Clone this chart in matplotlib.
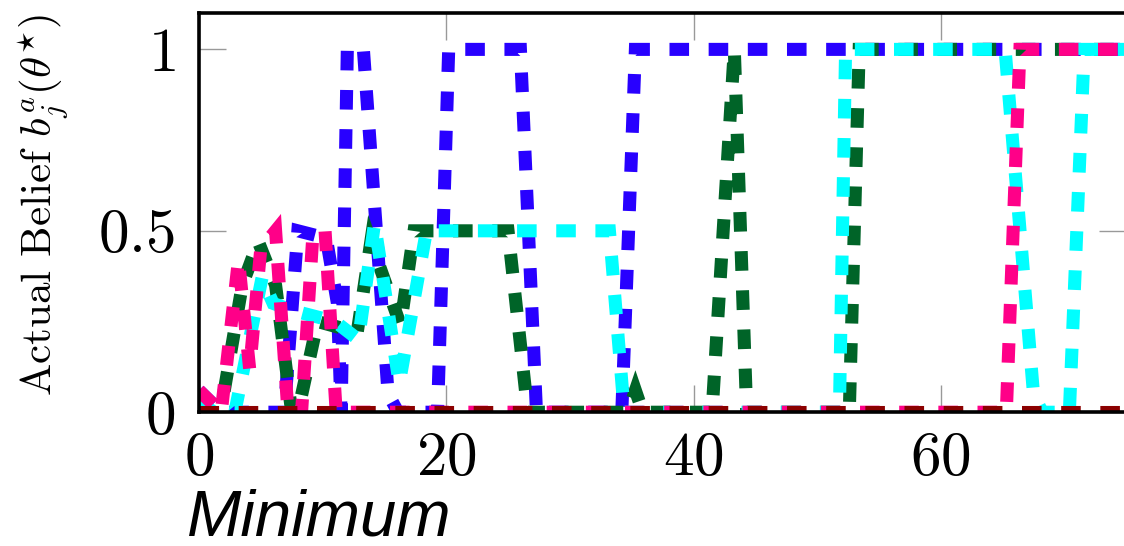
import numpy as np
import matplotlib
matplotlib.use("Agg")
import matplotlib.pyplot as plt

plt.rcParams['mathtext.fontset'] = 'cm'
plt.rcParams['font.family'] = 'serif'
plt.rcParams['font.serif'] = ['cmr10', 'DejaVu Serif']
plt.rcParams['axes.unicode_minus'] = False
plt.rcParams['axes.formatter.use_mathtext'] = True

# belief traces (x = step, y = belief)
blue_x = [0, 1.8, 6.9, 8.0, 10.3, 11.2, 11.5, 12.0, 13.3, 15.3, 16.1, 19.3, 20.2, 26.0, 27.3, 34.2, 35.3, 75]
blue_y = [0.06, 0, 0, 0.5, 0.48, 0.3, 0, 1, 1, 0.05, 0, 0, 1, 1, 0, 0, 1, 1]

green_x = [0, 0.7, 2.0, 3.5, 4.8, 6.2, 7.5, 8.0, 9.6, 12.8, 13.9, 16.3, 17.4, 25.0, 26.6,
           34.7, 35.3, 35.9, 41.5, 43.3, 44.3, 52.6, 53.4, 75]
green_y = [0, 0.05, 0.05, 0.35, 0.47, 0.35, 0.0, 0.0, 0.25, 0.22, 0.47, 0.24, 0.5, 0.5, 0,
           0, 0.06, 0, 0, 1, 0, 0, 1, 1]

cyan_x = [0, 1.2, 2.9, 5.1, 6.0, 7.6, 11.0, 12.9, 14.2, 16.2, 18.4, 19.0, 33.2, 34.4,
          51.8, 52.3, 65.2, 67.5, 68.2, 70.4, 71.6, 75]
cyan_y = [0.03, 0, 0, 0.37, 0.3, 0.28, 0.25, 0.2, 0.52, 0.08, 0.5, 0.5, 0.5, 0,
          0, 1, 1, 0.05, 0, 0, 1, 1]

pink_x = [0, 1.8, 3.2, 4.1, 5.0, 6.2, 7.2, 8.3, 9.2, 10.2, 11.1, 65.3, 66.4, 75]
pink_y = [0.06, 0, 0.42, 0.12, 0.45, 0.5, 0, 0, 0.48, 0.5, 0, 0, 1, 1]

red_x = [0, 75]
red_y = [0, 0]

series = [
    (blue_x, blue_y, '#2800ff'),
    (green_x, green_y, '#006428'),
    (cyan_x, cyan_y, '#00ffff'),
    (pink_x, pink_y, '#ff0088'),
    (red_x, red_y, '#8b0000'),
]

xticks = [0, 20, 40, 60]
yticks = [0, 0.5, 1]
ytick_labels = ['$0$', '$0.5$', '$1$']

fig = plt.figure(figsize=(11.24, 5.46), dpi=100)
ax = fig.add_axes([0.177, 0.245, 0.825, 0.731])

for xs, ys, c in series:
    ln, = ax.plot(xs, ys, color=c, lw=9.4, linestyle=(0, (1.5, 1.5)))
    ln.set_dash_joinstyle('miter')
    ln.set_dash_capstyle('butt')

ax.set_xlim(0, 75)
ax.set_ylim(0, 1.1)
ax.set_xticks(xticks)
ax.set_xticklabels(['$%d$' % t for t in xticks])
ax.set_yticks(yticks)
ax.set_yticklabels(ytick_labels)

ax.tick_params(direction='in', length=19.5, width=1.0, color='#999999',
               top=True, right=True, labelsize=44)
ax.tick_params(axis='y', pad=17)
ax.tick_params(axis='x', pad=14)
for sp in ax.spines.values():
    sp.set_linewidth(2.6)

ax.set_ylabel('Actual Belief $b^a_j(\\theta^{⋆})$', fontsize=31)
ax.yaxis.set_label_coords(-0.137, 0.52)
ax.set_xlabel('Minimum', fontsize=47, family='Liberation Sans', style='italic', ha='left')
ax.xaxis.set_label_coords(-0.013, -0.19)

fig.savefig('out.png', dpi=100)
